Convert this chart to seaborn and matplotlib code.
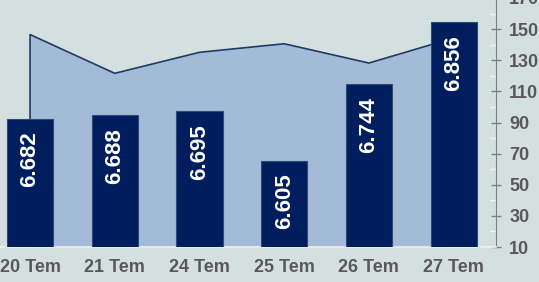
import numpy as np
import pandas as pd
import matplotlib
matplotlib.use("Agg")
import matplotlib.pyplot as plt
import seaborn as sns

days = ['20 Tem', '21 Tem', '24 Tem', '25 Tem', '26 Tem', '27 Tem']
bar_vals = [6.682, 6.688, 6.695, 6.605, 6.744, 6.856]
area_vals = [146.5, 121.6, 135.1, 140.6, 128.2, 144.3]
bar_labels = ['6.682', '6.688', '6.695', '6.605', '6.744', '6.856']

bg = '#D4E0E0'
bar_col = '#001E5E'
area_col = '#A3BBD6'
line_col = '#1F3A68'
txt_col = '#595959'

sns.set_style('white')
plt.rcParams['font.family'] = ['Liberation Sans', 'DejaVu Sans']
plt.rcParams['font.weight'] = 'bold'

fig = plt.figure(figsize=(5.39, 2.82), dpi=100, facecolor=bg)
ax = fig.add_axes([-12.3 / 539, 35 / 282, 508.3 / 539, 249 / 282])
ax.set_facecolor(bg)

# area on the right-hand scale
x = np.arange(len(days))
ax.fill_between(x, 10, area_vals, color=area_col, lw=0, zorder=1)
edge_df = pd.DataFrame({'x': np.r_[0, x], 'y': np.r_[10, area_vals]})
sns.lineplot(data=edge_df, x='x', y='y', sort=False, estimator=None, color=line_col,
             lw=1.2, ax=ax, zorder=2)
ax.set_xlim(-0.5, len(days) - 0.5)
ax.set_ylim(10, 170)

# bars on a hidden scale
ax2 = ax.twinx()
bar_df = pd.DataFrame({'day': days, 'val': bar_vals})
sns.barplot(data=bar_df, x='day', y='val', color=bar_col, width=0.545, saturation=1,
            edgecolor='#2E4A78', linewidth=0.8, ax=ax2)
ax2.set_xlim(-0.5, len(days) - 0.5)
ax2.set_ylim(6.45, 6.90)
ax2.set_yticks([])
ax2.set_xlabel('')
ax2.set_ylabel('')
for s in ax2.spines.values():
    s.set_visible(False)
for i, (v, lab) in enumerate(zip(bar_vals, bar_labels)):
    ax2.annotate(lab, (i, v), xytext=(0, -9), textcoords='offset points', rotation=90,
                 ha='center', va='top', color='white', fontsize=16, fontweight='bold')

# right axis styling (after twinx, which moves ticks to the left)
ax.yaxis.tick_right()
ax.set_yticks(np.arange(10, 171, 20))
ax.set_yticks(np.arange(20, 170, 20), minor=True)
ax.tick_params(axis='y', which='major', direction='inout', length=7, width=1, color='#7F7F7F',
               labelsize=13, labelcolor=txt_col, pad=6)
ax.tick_params(axis='y', which='minor', direction='in', length=4, width=1, color='#F2F2F2')
ax.set_xticks(x)
ax.set_xticklabels(days, fontsize=13, fontweight='bold', color=txt_col)
ax.set_xticks(np.arange(0.5, len(days) - 0.5), minor=True)
ax.tick_params(axis='x', which='major', length=0, pad=9)
ax.tick_params(axis='x', which='minor', direction='out', length=3, color='#EEEEEE')
ax.set_xlabel('')
ax.set_ylabel('')
for s in ['top', 'left']:
    ax.spines[s].set_visible(False)
ax.spines['right'].set_color('#7F7F7F')
ax.spines['bottom'].set_color('#F2F2F2')
ax.spines['bottom'].set_linewidth(1.2)

fig.savefig('out.png', dpi=100, facecolor=bg)
